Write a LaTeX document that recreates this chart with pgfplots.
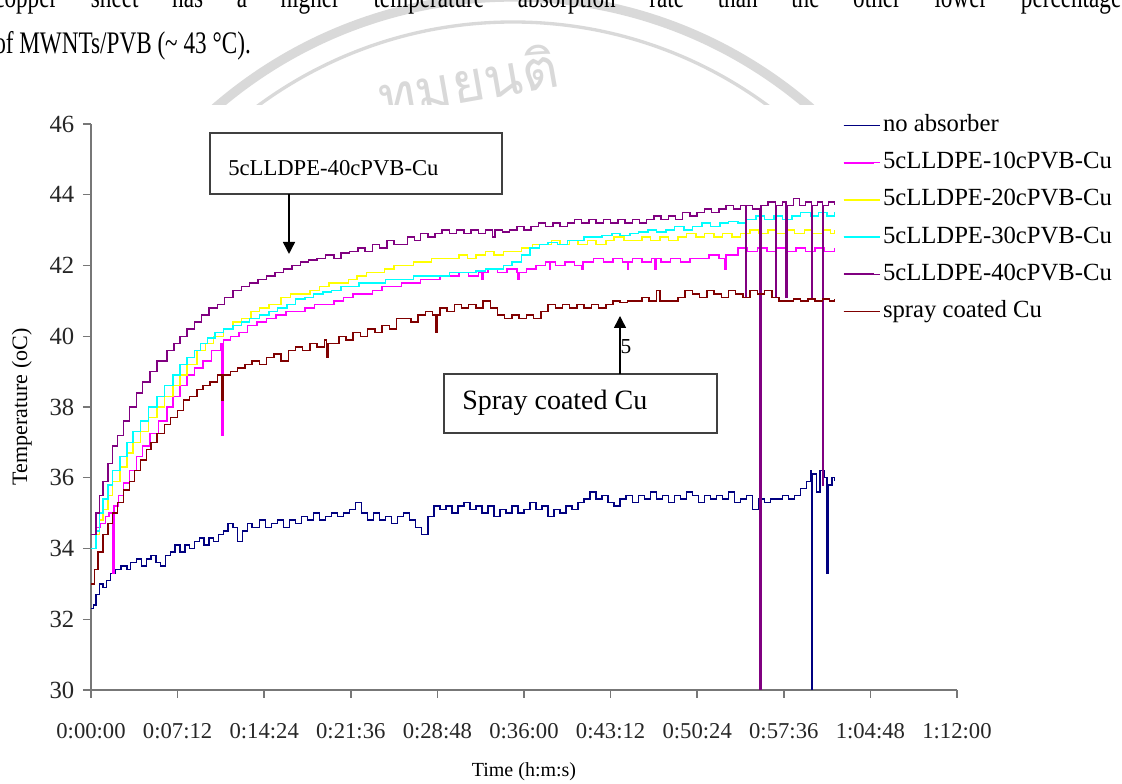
\documentclass[border=0pt]{standalone}
\usepackage{pgfplots}
\pgfplotsset{compat=1.18}
\usepackage{fontspec}
\setmainfont{Liberation Serif}
\newfontfamily\condfont{Liberation Serif}[FakeStretch=0.74]
\newfontfamily\thaifont[Script=Thai]{Loma}
\usetikzlibrary{arrows.meta}
\definecolor{cnavy}{HTML}{000080}
\definecolor{cmag}{HTML}{FF00FF}
\definecolor{cyel}{HTML}{FFFF00}
\definecolor{ccyan}{HTML}{00FFFF}
\definecolor{cpurp}{HTML}{800080}
\definecolor{cbrown}{HTML}{800000}
\definecolor{axisgray}{HTML}{777777}
\definecolor{wmgray}{HTML}{D9D9D9}
\definecolor{boxgray}{HTML}{404040}
\begin{document}
\begin{tikzpicture}[x=0.75pt,y=0.75pt]
\useasboundingbox (0,0) rectangle (1122,784);
% watermark (above the chart only)
\begin{scope}
\clip (0,679) rectangle (1122,784);
\draw[wmgray, line width=7pt] (513,332) circle (455);
\draw[wmgray, line width=2.5pt] (513,332) circle (430);
\node[wmgray, rotate=10, font=\thaifont\fontsize{42}{42}\selectfont] at (468,704) {ทมยนติ};
\end{scope}
% text of the page above the chart
\node[anchor=base west, inner sep=0pt, font=\condfont\fontsize{23.5}{24}\selectfont] at (-6,776)
  {\makebox[852pt][s]{copper sheet has a higher temperature absorption rate than the other lower percentages}};
\node[anchor=base west, inner sep=0pt, font=\condfont\fontsize{23.5}{24}\selectfont] at (-6,730)
  {of MWNTs/PVB (\textasciitilde{} 43 °C).};
\begin{axis}[
  at={(68.25pt,70.5pt)}, anchor=south west,
  scale only axis, width=649.5pt, height=424.5pt,
  xmin=0, xmax=72, ymin=30, ymax=46,
  axis lines=left,
  axis line style={-, draw=axisgray, line width=1.1pt},
  xtick={0,7.2,14.4,21.6,28.8,36,43.2,50.4,57.6,64.8,72},
  xticklabels={0:00:00,0:07:12,0:14:24,0:21:36,0:28:48,0:36:00,0:43:12,0:50:24,0:57:36,1:04:48,1:12:00},
  ytick={30,32,34,36,38,40,42,44,46},
  tick align=outside, major tick length=6pt,
  tick style={draw=axisgray, line width=1.1pt},
  tick label style={/pgf/number format/assume math mode=true, text=black!85},
  x tick label style={font=\fontsize{17}{17}\selectfont, yshift=-15.5pt},
  y tick label style={font=\fontsize{18.5}{18.5}\selectfont, xshift=-3pt},
  xlabel={Time (h:m:s)}, ylabel={Temperature (oC)},
  xlabel style={font=\fontsize{15}{15}\selectfont, at={(axis description cs:0.5,-0.145)}, anchor=center},
  ylabel style={font=\fontsize{16.5}{16.5}\selectfont, at={(axis description cs:-0.08,0.5)}, anchor=center},
  legend style={at={(axis description cs:0.868,1.022)}, anchor=north west,
    draw=none, fill=none, inner sep=0pt, outer sep=0pt, row sep=6.9pt,
    font=\fontsize{18.5}{18.5}\selectfont,
    nodes={inner sep=2pt, text height=13pt, text depth=4pt}},
  legend cell align=left,
  legend image code/.code={\draw[#1, line width=1.4pt] (0pt,0pt) -- (22.5pt,0pt); \path (0pt,0pt) -- (27pt,0pt);},
  every axis plot/.append style={const plot, line width=1.1pt},
]
% no absorber
\addplot[color=cnavy] coordinates {
(0,32.3) (0.2,32.4) (0.4,32.7) (0.7,33.0) (1.0,32.9) (1.3,33.1) (1.6,33.3) (2.0,33.4) (2.5,33.5) (3.0,33.4) (3.3,33.6) (3.8,33.7) (4.2,33.5) (4.6,33.7) (5.0,33.8) (5.4,33.6) (5.8,33.5) (6.2,33.8) (6.6,33.9) (7.0,34.1) (7.4,33.9) (7.8,34.1) (8.2,34.0) (8.6,34.2) (9.0,34.3) (9.4,34.1) (9.8,34.3) (10.2,34.2) (10.6,34.4) (11.0,34.5) (11.4,34.7) (11.8,34.6) (12.2,34.2) (12.6,34.5) (13.0,34.7) (13.4,34.6) (14.0,34.8) (14.5,34.6) (15.0,34.7) (15.5,34.8) (16.0,34.6) (16.5,34.8) (17.0,34.7) (17.5,34.9) (18.0,34.8) (18.5,35.0) (19.0,34.8) (19.5,34.9) (20.0,35.0) (20.5,34.9) (21.0,35.0) (21.5,35.1) (22.0,35.3) (22.5,35.0) (23.0,34.8) (23.5,35.0) (24.0,34.8) (24.5,34.9) (25.0,34.7) (25.5,34.9) (26.0,35.0) (26.5,34.8) (27.0,34.6) (27.5,34.4) (28.0,34.9) (28.5,35.2) (29.0,35.1) (29.5,35.2) (30.0,35.0) (30.5,35.2) (31.0,35.3) (31.5,35.1) (32.0,35.2) (32.5,35.0) (33.0,35.2) (33.5,34.9) (34.0,35.1) (34.5,35.0) (35.0,35.2) (35.5,35.0) (36.0,35.1) (36.5,35.3) (37.0,35.1) (37.5,35.2) (38.0,34.9) (38.5,35.1) (39.0,35.0) (39.5,35.2) (40.0,35.1) (40.5,35.3) (41.0,35.4) (41.5,35.6) (42.0,35.4) (42.5,35.5) (43.0,35.3) (43.5,35.2) (44.0,35.4) (44.5,35.5) (45.0,35.3) (45.5,35.5) (46.0,35.4) (46.5,35.6) (47.0,35.4) (47.5,35.5) (48.0,35.3) (48.5,35.5) (49.0,35.4) (49.5,35.6) (50.0,35.5) (50.5,35.3) (51.0,35.5) (51.5,35.4) (52.0,35.5) (52.5,35.4) (53.0,35.6) (53.5,35.3) (54.0,35.4) (54.5,35.5) (55.0,35.1) (55.5,35.4) (56.0,35.3) (56.5,35.4) (57.0,35.4) (57.5,35.5) (58.0,35.4) (58.5,35.5) (59.0,35.7) (59.5,35.9) (59.8,36.2) (59.9,30.0) (60.0,36.1) (60.3,35.6) (60.6,36.2) (61.0,36.0) (61.2,33.3) (61.3,35.8) (61.6,36.0) (61.8,35.9)
};
\addlegendentry{no absorber}
% 10cPVB
\addplot[color=cmag] coordinates {
(0,34.4) (0.4,34.6) (0.8,34.7) (1.2,34.9) (1.5,35.0) (1.8,33.3) (1.9,35.2) (2.3,35.5) (2.7,35.85) (3.2,36.2) (3.8,36.6) (4.3,36.9) (4.9,37.25) (5.6,37.6) (6.3,38.0) (6.8,38.3) (7.4,38.6) (8.0,38.9) (8.6,39.1) (9.3,39.3) (10.0,39.6) (10.8,39.8) (10.9,37.2) (11.0,39.9) (11.6,40.0) (12.3,40.1) (13.0,40.3) (13.8,40.4) (14.6,40.5) (15.4,40.6) (16.2,40.7) (17.0,40.7) (17.8,40.8) (18.6,40.9) (19.4,40.9) (20.2,41.0) (21.0,41.1) (21.8,41.2) (22.6,41.2) (23.4,41.3) (24.2,41.4) (25.0,41.4) (25.8,41.5) (26.6,41.5) (27.4,41.6) (28.2,41.6) (29.0,41.7) (29.8,41.7) (30.6,41.8) (31.4,41.7) (32.2,41.8) (32.5,41.6) (32.6,41.8) (33.0,41.9) (33.8,41.8) (34.6,41.9) (35.4,41.8) (35.5,41.6) (35.6,41.8) (36.2,41.9) (37.0,42.0) (37.8,42.1) (38.1,41.9) (38.2,42.1) (38.6,42.0) (39.4,42.1) (40.2,42.0) (40.8,41.9) (40.9,42.1) (41.8,42.2) (42.6,42.1) (43.4,42.2) (44.2,42.1) (44.6,41.9) (44.7,42.1) (45.0,42.2) (45.8,42.1) (46.6,42.2) (46.9,41.9) (47.0,42.2) (47.4,42.1) (48.2,42.2) (49.0,42.1) (49.8,42.2) (50.6,42.2) (51.4,42.3) (52.2,42.2) (52.7,41.9) (52.8,42.3) (53.8,42.5) (54.6,42.4) (55.4,42.5) (56.2,42.4) (57.0,42.5) (57.8,42.4) (58.6,42.5) (59.4,42.4) (60.2,42.5) (61.0,42.4) (61.8,42.5)
};
\addlegendentry{5cLLDPE-10cPVB-Cu}
% 20cPVB
\addplot[color=cyel] coordinates {
(0,34.0) (0.4,34.4) (0.7,34.8) (1.0,35.1) (1.4,35.5) (1.8,35.9) (2.4,36.3) (3.0,36.7) (3.5,37.0) (4.1,37.3) (4.8,37.7) (5.5,38.0) (6.1,38.3) (6.8,38.6) (7.4,38.9) (8.0,39.2) (8.8,39.6) (9.5,39.8) (10.2,40.0) (11.0,40.2) (11.8,40.4) (12.5,40.5) (13.3,40.7) (14.0,40.8) (14.8,40.9) (15.8,41.1) (16.6,41.2) (17.4,41.2) (18.2,41.3) (19.0,41.4) (19.8,41.5) (20.6,41.5) (21.4,41.6) (22.1,41.7) (22.9,41.8) (23.6,41.8) (24.4,41.9) (25.2,42.0) (26.0,42.0) (26.8,42.1) (27.5,42.1) (28.3,42.2) (29.0,42.2) (29.8,42.2) (30.6,42.3) (31.3,42.2) (32.0,42.3) (32.8,42.4) (33.5,42.3) (34.3,42.4) (35.0,42.4) (35.8,42.5) (36.7,42.6) (37.5,42.6) (38.3,42.7) (39.0,42.6) (39.8,42.7) (40.5,42.6) (41.3,42.7) (42.0,42.6) (42.8,42.7) (43.5,42.8) (44.3,42.7) (45.0,42.7) (45.8,42.8) (46.5,42.7) (47.3,42.8) (48.0,42.7) (48.8,42.8) (49.5,42.9) (50.3,42.8) (51.0,42.9) (51.8,42.8) (52.5,42.9) (53.3,42.8) (54.0,42.9) (54.8,43.0) (55.5,42.9) (56.3,43.0) (57.0,42.9) (57.8,43.0) (58.5,42.9) (59.3,43.0) (60.0,42.9) (60.8,43.0) (61.5,42.9) (61.8,43.0)
};
\addlegendentry{5cLLDPE-20cPVB-Cu}
% 30cPVB
\addplot[color=ccyan] coordinates {
(0,34.0) (0.4,34.5) (0.7,35.0) (1.0,35.4) (1.4,35.8) (1.8,36.2) (2.4,36.6) (3.0,37.0) (3.5,37.3) (4.1,37.6) (4.8,38.0) (5.5,38.3) (6.1,38.6) (6.8,38.9) (7.4,39.2) (8.0,39.4) (8.6,39.6) (9.1,39.8) (9.7,39.95) (10.3,40.1) (11.0,40.2) (11.8,40.3) (12.5,40.4) (13.2,40.5) (14.0,40.6) (14.8,40.7) (15.5,40.8) (16.3,40.9) (17.0,41.05) (17.8,41.1) (18.5,41.2) (19.3,41.25) (20.0,41.3) (20.8,41.4) (21.5,41.4) (22.3,41.5) (23.0,41.5) (23.8,41.5) (24.5,41.6) (25.3,41.6) (26.0,41.6) (26.8,41.7) (27.5,41.7) (28.3,41.7) (29.0,41.7) (29.8,41.8) (30.5,41.8) (31.3,41.8) (32.0,41.85) (32.8,41.9) (33.5,41.9) (34.3,42.0) (35.0,42.1) (35.8,42.3) (36.5,42.5) (37.3,42.6) (38.0,42.65) (38.8,42.6) (39.6,42.7) (40.3,42.7) (41.0,42.8) (41.8,42.8) (42.5,42.85) (43.3,42.9) (44.0,42.85) (44.8,42.9) (45.5,42.95) (46.3,43.0) (47.0,42.95) (47.8,43.0) (48.5,43.1) (49.3,43.0) (50.0,43.1) (50.8,43.2) (51.5,43.1) (52.3,43.2) (53.0,43.25) (53.8,43.2) (54.5,43.3) (55.3,43.4) (56.0,43.3) (56.8,43.4) (57.5,43.3) (58.3,43.4) (59.0,43.5) (59.8,43.4) (60.5,43.5) (61.2,43.4) (61.8,43.5)
};
\addlegendentry{5cLLDPE-30cPVB-Cu}
% 40cPVB
\addplot[color=cpurp] coordinates {
(0,34.4) (0.4,35.0) (0.7,35.5) (1.0,35.9) (1.4,36.4) (1.8,36.9) (2.2,37.2) (2.7,37.6) (3.2,38.0) (3.8,38.4) (4.3,38.7) (4.9,39.0) (5.5,39.3) (6.3,39.6) (6.9,39.8) (7.4,40.0) (8.0,40.2) (8.6,40.4) (9.2,40.6) (9.8,40.8) (10.5,40.9) (11.1,41.1) (11.8,41.3) (12.5,41.4) (13.2,41.5) (13.9,41.6) (14.6,41.7) (15.3,41.8) (16.0,41.9) (16.7,42.0) (17.4,42.1) (18.1,42.15) (18.8,42.2) (19.5,42.3) (20.2,42.2) (20.8,42.35) (21.5,42.4) (22.2,42.5) (22.8,42.4) (23.4,42.6) (24.0,42.5) (24.6,42.7) (25.2,42.6) (25.7,42.6) (26.3,42.8) (26.9,42.7) (27.4,42.9) (28.0,42.8) (28.6,42.9) (29.2,43.0) (29.8,42.9) (30.4,43.0) (31.0,42.9) (31.6,43.0) (32.2,42.9) (32.8,43.0) (33.4,42.8) (33.6,43.0) (34.2,42.95) (34.8,43.0) (35.4,43.1) (36.0,43.0) (36.6,43.1) (37.2,43.2) (37.8,43.1) (38.4,43.2) (39.0,43.1) (39.6,43.2) (40.2,43.3) (40.8,43.2) (41.4,43.3) (42.0,43.2) (42.6,43.3) (43.2,43.2) (43.8,43.3) (44.4,43.2) (45.0,43.3) (45.6,43.2) (46.2,43.3) (46.8,43.4) (47.4,43.3) (48.0,43.4) (48.6,43.3) (49.2,43.5) (49.8,43.4) (50.4,43.5) (51.0,43.6) (51.6,43.5) (52.2,43.6) (52.8,43.7) (53.4,43.6) (54.0,43.7) (54.4,41.1) (54.5,43.7) (55.0,43.6) (55.6,30.0) (55.7,43.7) (56.3,43.8) (56.9,41.1) (57.0,43.7) (57.5,43.8) (57.8,41.1) (57.9,43.7) (58.4,43.9) (58.9,43.7) (59.4,43.8) (59.9,41.1) (60.0,43.7) (60.4,43.8) (60.8,35.8) (60.9,43.7) (61.3,43.8) (61.8,43.7)
};
\addlegendentry{5cLLDPE-40cPVB-Cu}
% spray coated Cu
\addplot[color=cbrown] coordinates {
(0,33.0) (0.3,33.4) (0.6,33.9) (1.0,34.4) (1.4,34.7) (1.8,35.0) (2.2,35.3) (2.7,35.65) (3.2,35.9) (3.6,36.2) (4.1,36.5) (4.6,36.8) (5.0,37.0) (5.5,37.25) (6.1,37.5) (6.6,37.7) (7.2,37.9) (7.7,38.2) (8.2,38.3) (8.8,38.5) (9.3,38.6) (9.9,38.7) (10.5,38.9) (10.9,38.2) (11.0,38.9) (11.6,39.0) (12.2,39.1) (12.8,39.2) (13.4,39.3) (14.0,39.2) (14.6,39.4) (15.2,39.5) (15.8,39.3) (16.4,39.6) (17.0,39.7) (17.6,39.6) (18.2,39.8) (18.8,39.7) (19.4,39.9) (19.6,39.4) (19.7,39.8) (20.0,39.8) (20.6,40.0) (21.2,39.9) (21.8,40.1) (22.4,40.0) (23.0,40.2) (23.6,40.1) (24.2,40.3) (24.8,40.2) (25.4,40.5) (26.0,40.5) (26.6,40.4) (27.2,40.6) (27.8,40.7) (28.4,40.6) (28.7,40.1) (28.8,40.6) (29.0,40.8) (29.6,40.7) (30.2,40.9) (30.8,40.8) (31.4,40.9) (32.0,40.8) (32.6,41.0) (33.2,40.8) (33.8,40.6) (34.4,40.5) (35.0,40.6) (35.6,40.5) (36.2,40.6) (36.8,40.5) (37.4,40.7) (38.0,40.9) (38.6,40.8) (39.2,40.9) (39.8,40.8) (40.4,40.9) (41.0,40.8) (41.6,40.9) (42.2,40.8) (42.8,40.9) (43.4,41.0) (44.0,40.95) (44.6,41.0) (45.2,41.0) (45.8,41.1) (46.4,41.0) (47.0,41.3) (47.3,41.0) (48.2,41.0) (48.8,41.1) (49.4,41.3) (50.0,41.2) (50.6,41.1) (51.2,41.3) (51.8,41.2) (52.4,41.1) (53.0,41.3) (53.6,41.2) (54.2,41.1) (54.8,41.3) (55.4,41.2) (56.0,41.3) (56.6,41.1) (57.2,41.0) (57.8,41.0) (58.4,41.05) (59.0,41.0) (59.6,41.05) (60.2,41.0) (60.8,41.05) (61.4,41.0) (61.8,41.05)
};
\addlegendentry{spray coated Cu}
\end{axis}
% annotation boxes
\draw[boxgray, line width=1.1pt, fill=white] (210,651) rectangle (502,590);
\node[anchor=west, inner sep=0pt, font=\fontsize{17}{17}\selectfont] at (228,616) {5cLLDPE-40cPVB-Cu};
\draw[black, line width=1.1pt, -{Triangle[length=9pt,width=9pt]}] (289,590) -- (289,530);
\draw[boxgray, line width=1.1pt, fill=white] (444,410) rectangle (717,351);
\node[anchor=west, inner sep=0pt, font=\fontsize{21}{21}\selectfont] at (462,381) {Spray coated Cu};
\draw[black, line width=1.1pt, -{Triangle[length=9pt,width=9pt]}] (620,410) -- (620,468);
\node[inner sep=0pt, font=\fontsize{16}{16}\selectfont] at (626,437) {5};
\end{tikzpicture}
\end{document}
